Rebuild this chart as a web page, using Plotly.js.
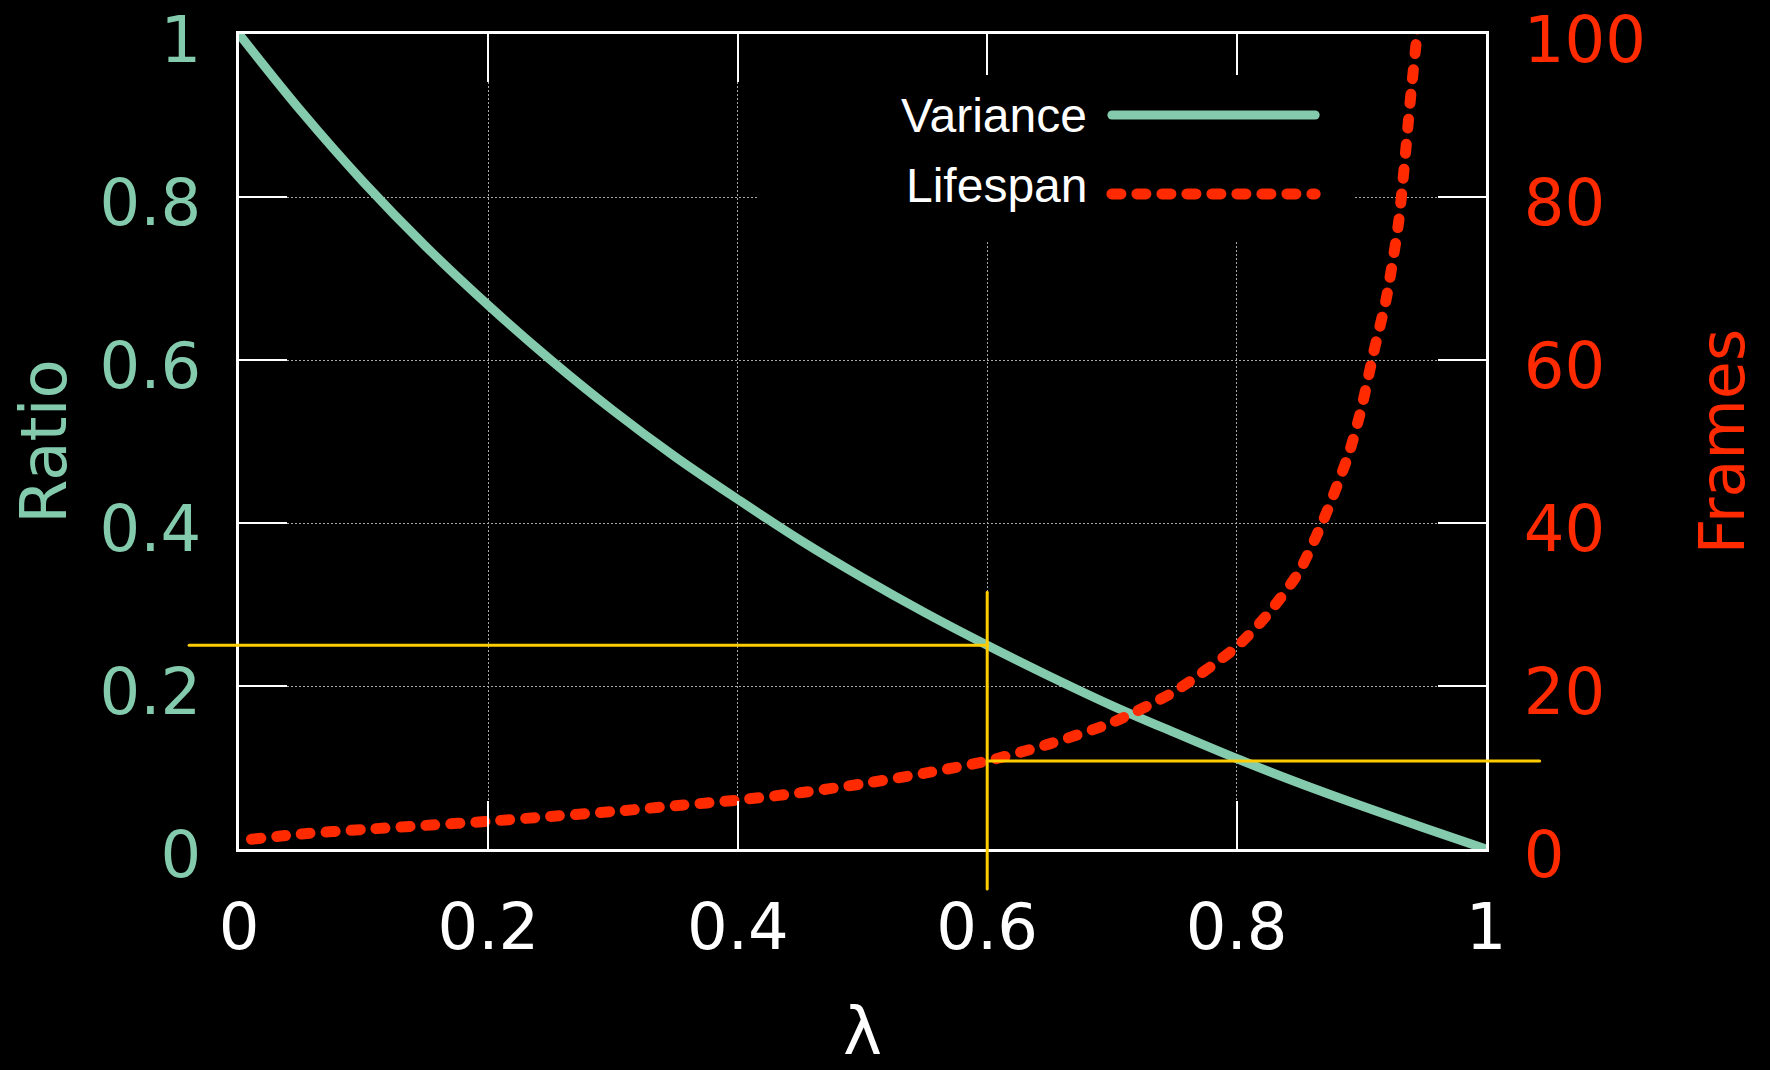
<!DOCTYPE html>
<html>
<head>
<meta charset="utf-8">
<script src="https://cdn.plot.ly/plotly-3.0.1.min.js"></script>
<style>
html,body{margin:0;padding:0;background:#000;}
#chart{width:1770px;height:1070px;}
</style>
</head>
<body>
<div id="chart"></div>
<script>
// ---- data ----
const lambdaVariance = [0, 0.05, 0.1, 0.15, 0.2, 0.25, 0.3, 0.35, 0.4, 0.45, 0.5, 0.55, 0.6, 0.65, 0.7, 0.75, 0.8, 0.85, 0.9, 0.95, 1.0];
const varianceRatio  = [1.0, 0.905, 0.818, 0.739, 0.667, 0.600, 0.538, 0.481, 0.429, 0.379, 0.333, 0.290, 0.250, 0.212, 0.176, 0.143, 0.111, 0.081, 0.053, 0.026, 0.0];

const lambdaLifespan = [0.01, 0.05, 0.1, 0.15, 0.2, 0.25, 0.3, 0.35, 0.4, 0.45, 0.5, 0.55, 0.6, 0.65, 0.7, 0.75, 0.8, 0.825, 0.85, 0.87, 0.89, 0.9, 0.91, 0.92, 0.93, 0.94, 0.945, 0.95];
const lifespanFrames = [1.2, 1.85, 2.4, 2.9, 3.4, 4.0, 4.6, 5.3, 6.0, 6.9, 8.0, 9.3, 10.8, 12.9, 15.5, 19.3, 24.8, 28.8, 34.0, 40.5, 48.5, 54.0, 61.0, 67.5, 77.0, 93.0, 100.5, 110];

const xTickVals = [0, 0.2, 0.4, 0.6, 0.8, 1];
const xTickText = ['0', '0.2', '0.4', '0.6', '0.8', '1'];
const yTickVals = [0, 0.2, 0.4, 0.6, 0.8, 1];
const yTickText = ['0', '0.2', '0.4', '0.6', '0.8', '1'];
const y2TickVals = [0, 20, 40, 60, 80, 100];
const y2TickText = ['0', '20', '40', '60', '80', '100'];

const seriesNames = ['Variance', 'Lifespan'];
const axisTitles = {x: 'λ', y: 'Ratio', y2: 'Frames'};
const markLambda = 0.6;

// ---- styling ----
const MINT = '#84cbae';
const RED = '#ff2a00';
const YELLOW = '#ffcc00';
const xRange = [0, 1], yRange = [0, 1], y2Range = [0, 100];

const markVar = varianceRatio[lambdaVariance.indexOf(markLambda)];
const markLife = lifespanFrames[lambdaLifespan.indexOf(markLambda)];

function px(v, r) { return (v - r[0]) / (r[1] - r[0]); }

const traces = [
  {
    x: lambdaVariance, y: varianceRatio, name: seriesNames[0], type: 'scatter', mode: 'lines',
    line: {color: MINT, width: 9, shape: 'spline', smoothing: 1},
    xaxis: 'x', yaxis: 'y', showlegend: false, hoverinfo: 'skip'
  },
  {
    x: lambdaLifespan, y: lifespanFrames, name: seriesNames[1], type: 'scatter', mode: 'lines',
    line: {color: RED, width: 11, dash: '9px,16px', shape: 'spline', smoothing: 0.6},
    xaxis: 'x', yaxis: 'y2', showlegend: false, hoverinfo: 'skip'
  }
];

const tickFont = {family: 'DejaVu Sans', size: 64};

const shapes = [
  // opaque key box
  {type: 'rect', xref: 'paper', yref: 'paper', x0: 0.416, x1: 0.894, y0: 0.747, y1: 0.9497,
   fillcolor: '#000', line: {width: 0}, layer: 'above'},
  // key samples
  {type: 'line', xref: 'paper', yref: 'paper', x0: 0.700, x1: 0.863, y0: 0.9006, y1: 0.9006,
   line: {color: MINT, width: 9}, layer: 'above'},
  {type: 'line', xref: 'paper', yref: 'paper', x0: 0.700, x1: 0.863, y0: 0.8037, y1: 0.8037,
   line: {color: RED, width: 11, dash: '9px,16px'}, layer: 'above'},
  // yellow guide lines
  {type: 'line', xref: 'paper', yref: 'paper', x0: px(markLambda, xRange), x1: px(markLambda, xRange), y0: -0.049, y1: 0.315,
   line: {color: YELLOW, width: 3}, layer: 'above'},
  {type: 'line', xref: 'paper', yref: 'paper', x0: -0.040, x1: px(markLambda, xRange), y0: px(markVar, yRange), y1: px(markVar, yRange),
   line: {color: YELLOW, width: 3}, layer: 'above'},
  {type: 'line', xref: 'paper', yref: 'paper', x0: px(markLambda, xRange), x1: 1.043, y0: px(markLife, y2Range), y1: px(markLife, y2Range),
   line: {color: YELLOW, width: 3}, layer: 'above'}
];

const annotations = [
  {xref: 'paper', yref: 'paper', x: 0.6816, y: 0.8994, xanchor: 'right', yanchor: 'middle', showarrow: false,
   text: seriesNames[0], font: {family: 'Liberation Sans', size: 48, color: '#ffffff'}},
  {xref: 'paper', yref: 'paper', x: 0.6816, y: 0.8135, xanchor: 'right', yanchor: 'middle', showarrow: false,
   text: seriesNames[1], font: {family: 'Liberation Sans', size: 48, color: '#ffffff'}},
  {xref: 'paper', yref: 'paper', x: -0.157, y: 0.5, xanchor: 'center', yanchor: 'middle', showarrow: false,
   textangle: -90, text: axisTitles.y, font: {family: 'DejaVu Sans', size: 64, color: MINT}}
];

const layout = {
  width: 1770, height: 1070, autosize: false,
  paper_bgcolor: '#000', plot_bgcolor: '#000',
  margin: {l: 239, r: 284, t: 34, b: 221, pad: 0},
  showlegend: false,
  xaxis: {
    range: xRange, tickmode: 'array', tickvals: xTickVals, ticktext: xTickText,
    ticks: 'inside', ticklen: 48, tickwidth: 2, tickcolor: '#fff',
    showline: true, linecolor: '#fff', linewidth: 3, mirror: 'ticks',
    showgrid: true, gridcolor: '#a8a8a8', gridwidth: 1, griddash: '2px,2px',
    zeroline: false, tickfont: Object.assign({color: '#fff'}, tickFont),
    ticklabelstandoff: 20, ticklabeloverflow: 'allow',
    title: {text: axisTitles.x, font: {family: 'DejaVu Sans', size: 66, color: '#fff'}, standoff: 110}
  },
  yaxis: {
    range: yRange, tickmode: 'array', tickvals: yTickVals, ticktext: yTickText,
    ticks: 'inside', ticklen: 48, tickwidth: 2, tickcolor: '#fff',
    showline: true, linecolor: '#fff', linewidth: 3, mirror: false,
    showgrid: true, gridcolor: '#a8a8a8', gridwidth: 1, griddash: '2px,2px',
    zeroline: false, tickfont: Object.assign({color: MINT}, tickFont),
    ticklabelstandoff: 22, ticklabelshift: 6, ticklabeloverflow: 'allow'
  },
  yaxis2: {
    range: y2Range, overlaying: 'y', side: 'right', tickmode: 'array', tickvals: y2TickVals, ticktext: y2TickText,
    ticks: 'inside', ticklen: 48, tickwidth: 2, tickcolor: '#fff',
    showline: true, linecolor: '#fff', linewidth: 3,
    showgrid: false, zeroline: false, tickfont: Object.assign({color: RED}, tickFont),
    ticklabelstandoff: 22, ticklabelshift: 6, ticklabeloverflow: 'allow',
    title: {text: axisTitles.y2, font: {family: 'DejaVu Sans', size: 62, color: RED}, standoff: 56}
  },
  shapes: shapes,
  annotations: annotations
};

Plotly.newPlot('chart', traces, layout, {staticPlot: true, displayModeBar: false}).then(function () {
  document.querySelectorAll('.scatterlayer path.js-line, .shapelayer path').forEach(function (p) {
    p.style.strokeLinecap = 'round';
  });
});
</script>
</body>
</html>
